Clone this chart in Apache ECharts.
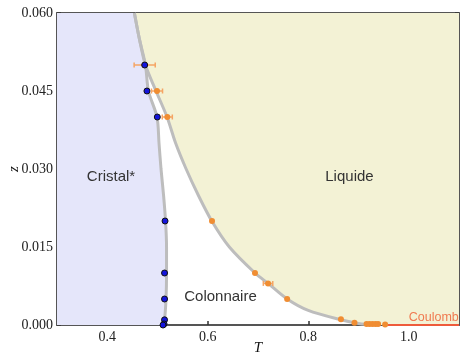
<!DOCTYPE html>
<html><head><meta charset="utf-8">
<script src="https://cdn.jsdelivr.net/npm/echarts@6/dist/echarts.min.js"></script>
<style>html,body{margin:0;padding:0;background:#fff}#c{width:461px;height:352px}</style>
</head><body><div id="c"></div>
<script>
// ---- data ----
const xTickValues = [0.4, 0.6, 0.8, 1.0];

// crystal / columnar boundary (T, z)
const crystalT = [0.454, 0.464, 0.476, 0.482, 0.499, 0.503, 0.507, 0.512, 0.516, 0.518, 0.518, 0.517, 0.515, 0.513];
const crystalZ = [0.060, 0.055, 0.050, 0.045, 0.040, 0.035, 0.030, 0.025, 0.020, 0.015, 0.010, 0.005, 0.002, 0.000];

// liquid boundary (T, z)
const liquidT = [0.454, 0.464, 0.476, 0.497, 0.519, 0.536, 0.557, 0.581, 0.608, 0.643, 0.694, 0.720, 0.758, 0.800, 0.865, 0.900, 0.935];
const liquidZ = [0.060, 0.055, 0.050, 0.045, 0.040, 0.035, 0.030, 0.025, 0.020, 0.015, 0.010, 0.008, 0.005, 0.0028, 0.0010, 0.0003, 0.000];

// Coulomb segment
const coulombT = [0.955, 1.1];
const coulombZ = [0, 0];

// crystal melting points (blue)
const blueT = [0.4745, 0.479, 0.4996, 0.515, 0.514, 0.514, 0.514, 0.513, 0.511];
const blueZ = [0.050, 0.045, 0.040, 0.020, 0.010, 0.005, 0.001, 0.0002, 0.0];

// liquid transition points (orange) with T error
const orangeT = [0.4745, 0.499, 0.5195, 0.6085, 0.694, 0.720, 0.758, 0.865, 0.892, 0.916, 0.922, 0.928, 0.934, 0.939, 0.953];
const orangeZ = [0.050, 0.045, 0.040, 0.020, 0.010, 0.008, 0.005, 0.0011, 0.00045, 0.0002, 0.0002, 0.0002, 0.0002, 0.0002, 0.0001];
const orangeErr = [0.021, 0.011, 0.010, 0, 0, 0.0094, 0, 0, 0, 0, 0, 0, 0, 0, 0];

// region labels
const labelText = ['Cristal*', 'Liquide', 'Colonnaire'];
const labelT = [0.4075, 0.882, 0.6254];
const labelZ = [0.0285, 0.0285, 0.0054];

const coulombLabel = 'Coulomb';
const coulombLabelT = 1.0;
const coulombLabelZ = 0.00135;

// ---- build ----
const zip = (a, b) => a.map((v, i) => [v, b[i]]);
const crystalPts = zip(crystalT, crystalZ);
const liquidPts = zip(liquidT, liquidZ);

function polySeries(pts, color, z) {
  return {
    type: 'custom', z: z, silent: true, clip: true,
    data: [[pts[0][0], pts[0][1]]],
    renderItem: function (params, api) {
      return { type: 'polygon', shape: { points: pts.map(p => api.coord(p)) }, style: { fill: color } };
    }
  };
}

const crystalPoly = [[0.3, 0.06]].concat(crystalPts).concat([[0.3, 0]]);
const liquidPoly = liquidPts.concat([[1.1, 0], [1.1, 0.06]]);

const serifFont = '"Liberation Serif", "Times New Roman", serif';
const sansFont = '"Liberation Sans", Arial, Helvetica, sans-serif';

const axisLineStyle = { color: '#555', width: 2 };
const tickStyle = { color: '#333', width: 1.5 };

const chart = echarts.init(document.getElementById('c'), null, { renderer: 'canvas' });
chart.setOption({
  animation: false,
  backgroundColor: '#fff',
  grid: { left: 57, right: 2, top: 13, bottom: 27, containLabel: false, outerBoundsMode: 'none' },
  xAxis: [
    {
      type: 'value', min: 0.3, max: 1.1, position: 'bottom',
      name: 'T', nameLocation: 'middle', nameGap: 16, nameMoveOverlap: false,
      nameTextStyle: { fontFamily: serifFont, fontStyle: 'italic', fontSize: 15, color: '#111' },
      axisLine: { show: true, onZero: false, lineStyle: axisLineStyle },
      axisTick: { show: true, inside: true, length: 4, customValues: xTickValues, lineStyle: tickStyle },
      axisLabel: { customValues: xTickValues, formatter: v => v.toFixed(1), fontFamily: serifFont, fontSize: 14, color: '#222', margin: 5 },
      splitLine: { show: false }
    },
    {
      type: 'value', min: 0.3, max: 1.1, position: 'top',
      axisLine: { show: true, onZero: false, lineStyle: axisLineStyle },
      axisTick: { show: true, inside: true, length: 4, customValues: xTickValues, lineStyle: tickStyle },
      axisLabel: { show: false },
      splitLine: { show: false }
    }
  ],
  yAxis: [
    {
      type: 'value', min: 0, max: 0.06, interval: 0.015, position: 'left',
      name: 'z', nameLocation: 'middle', nameGap: 35, nameMoveOverlap: false,
      nameTextStyle: { fontFamily: serifFont, fontStyle: 'italic', fontSize: 15, color: '#111' },
      axisLine: { show: true, onZero: false, lineStyle: axisLineStyle },
      axisTick: { show: true, inside: true, length: 4, lineStyle: tickStyle },
      axisLabel: { formatter: v => v.toFixed(3), fontFamily: serifFont, fontSize: 14, color: '#222', margin: 4 },
      splitLine: { show: false }
    },
    {
      type: 'value', min: 0, max: 0.06, interval: 0.015, position: 'right',
      axisLine: { show: true, onZero: false, lineStyle: axisLineStyle },
      axisTick: { show: true, inside: true, length: 4, lineStyle: tickStyle },
      axisLabel: { show: false },
      splitLine: { show: false }
    }
  ],
  series: [
    polySeries(crystalPoly, '#e5e6fa', 1),
    polySeries(liquidPoly, '#f3f2d5', 1),
    {
      type: 'line', z: 2, data: crystalPts, smooth: 0.3, symbol: 'none', silent: true,
      lineStyle: { color: '#bdbdbd', width: 3 }
    },
    {
      type: 'line', z: 2, data: liquidPts, smooth: 0.3, symbol: 'none', silent: true,
      lineStyle: { color: '#bdbdbd', width: 3 }
    },
    {
      type: 'line', z: 3, data: zip(coulombT, coulombZ), symbol: 'none', silent: true,
      lineStyle: { color: '#ee5b3b', width: 2 }
    },
    {
      type: 'custom', z: 4, silent: true,
      data: orangeT.map((t, i) => [t, orangeZ[i], orangeErr[i]]).filter(d => d[2] > 0),
      renderItem: function (params, api) {
        const t = api.value(0), zz = api.value(1), e = api.value(2);
        const p1 = api.coord([t - e, zz]);
        const p2 = api.coord([t + e, zz]);
        const st = { stroke: '#f5a564', lineWidth: 1.5 };
        return {
          type: 'group', children: [
            { type: 'line', shape: { x1: p1[0], y1: p1[1], x2: p2[0], y2: p2[1] }, style: st },
            { type: 'line', shape: { x1: p1[0], y1: p1[1] - 2.5, x2: p1[0], y2: p1[1] + 2.5 }, style: st },
            { type: 'line', shape: { x1: p2[0], y1: p2[1] - 2.5, x2: p2[0], y2: p2[1] + 2.5 }, style: st }
          ]
        };
      }
    },
    {
      type: 'scatter', z: 5, data: zip(orangeT, orangeZ), symbolSize: 6, silent: true,
      itemStyle: { color: '#f08d32', opacity: 1 }
    },
    {
      type: 'scatter', z: 6, data: zip(blueT, blueZ), symbolSize: 6, silent: true,
      itemStyle: { color: '#1414dc', borderColor: '#111', borderWidth: 1, opacity: 1 }
    },
    {
      type: 'custom', z: 7, silent: true,
      data: labelT.map((t, i) => [t, labelZ[i], i]),
      renderItem: function (params, api) {
        const p = api.coord([api.value(0), api.value(1)]);
        return {
          type: 'text', x: p[0], y: p[1],
          style: { text: labelText[api.value(2)], font: '15px ' + sansFont, fill: '#333', align: 'center', verticalAlign: 'middle' }
        };
      }
    },
    {
      type: 'custom', z: 7, silent: true,
      data: [[coulombLabelT, coulombLabelZ]],
      renderItem: function (params, api) {
        const p = api.coord([api.value(0), api.value(1)]);
        return {
          type: 'text', x: p[0], y: p[1],
          style: { text: coulombLabel, font: '12.5px ' + sansFont, fill: '#f07a50', align: 'left', verticalAlign: 'middle' }
        };
      }
    }
  ]
});
</script>
</body></html>
